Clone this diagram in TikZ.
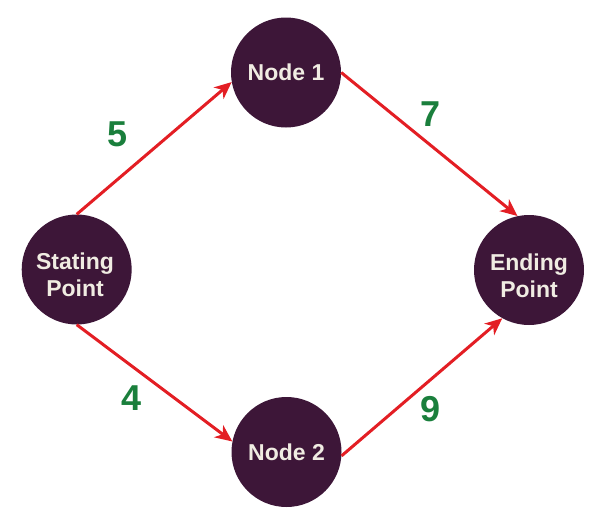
\documentclass[tikz,border=0pt]{standalone}
\usepackage{fontspec}
\setmainfont{Liberation Sans}
\usetikzlibrary{arrows.meta}
\definecolor{nodefill}{HTML}{3D1638}
\definecolor{nodetext}{HTML}{F0ECE2}
\definecolor{arrred}{HTML}{E31E24}
\definecolor{wgreen}{HTML}{1A7F3C}
\begin{document}
\begin{tikzpicture}[x=1pt,y=-1pt,
  circ/.style={circle,fill=nodefill,draw=none,minimum size=110pt,inner sep=0pt},
  ntext/.style={text=nodetext,font=\fontsize{23}{27}\selectfont\bfseries,align=center,inner sep=0pt},
  arr/.style={draw=arrred,line width=3pt,-{Stealth[length=17pt,width=15pt,inset=5pt]}},
  weight/.style={text=wgreen,font=\fontsize{36}{40}\selectfont\bfseries,inner sep=0pt}]
\useasboundingbox (0,0) rectangle (600,522);
\node[circ] (S) at (76.7,269.5) {};
\node[ntext] (St) at (75,275) {Stating\\Point};
\node[circ] (E) at (529,270) {};
\node[ntext] (Et) at (529,275.5) {Ending\\Point};
\node[circ,ntext] (N1) at (286,72.5) {Node 1};
\node[circ,ntext] (N2) at (286.5,452) {Node 2};
\draw[arr] (S.north) -- (N1.190);
\draw[arr] (N1.east) -- (E.102);
\draw[arr] (S.south) -- (N2.169);
\draw[arr] (N2.-4) -- (E.241);
\node[weight] (w5) at (118,134.5) {5};
\node[weight] (w7) at (431,113.7) {7};
\node[weight] (w4) at (132,398) {4};
\node[weight] (w9) at (431,409) {9};
\end{tikzpicture}
\end{document}
